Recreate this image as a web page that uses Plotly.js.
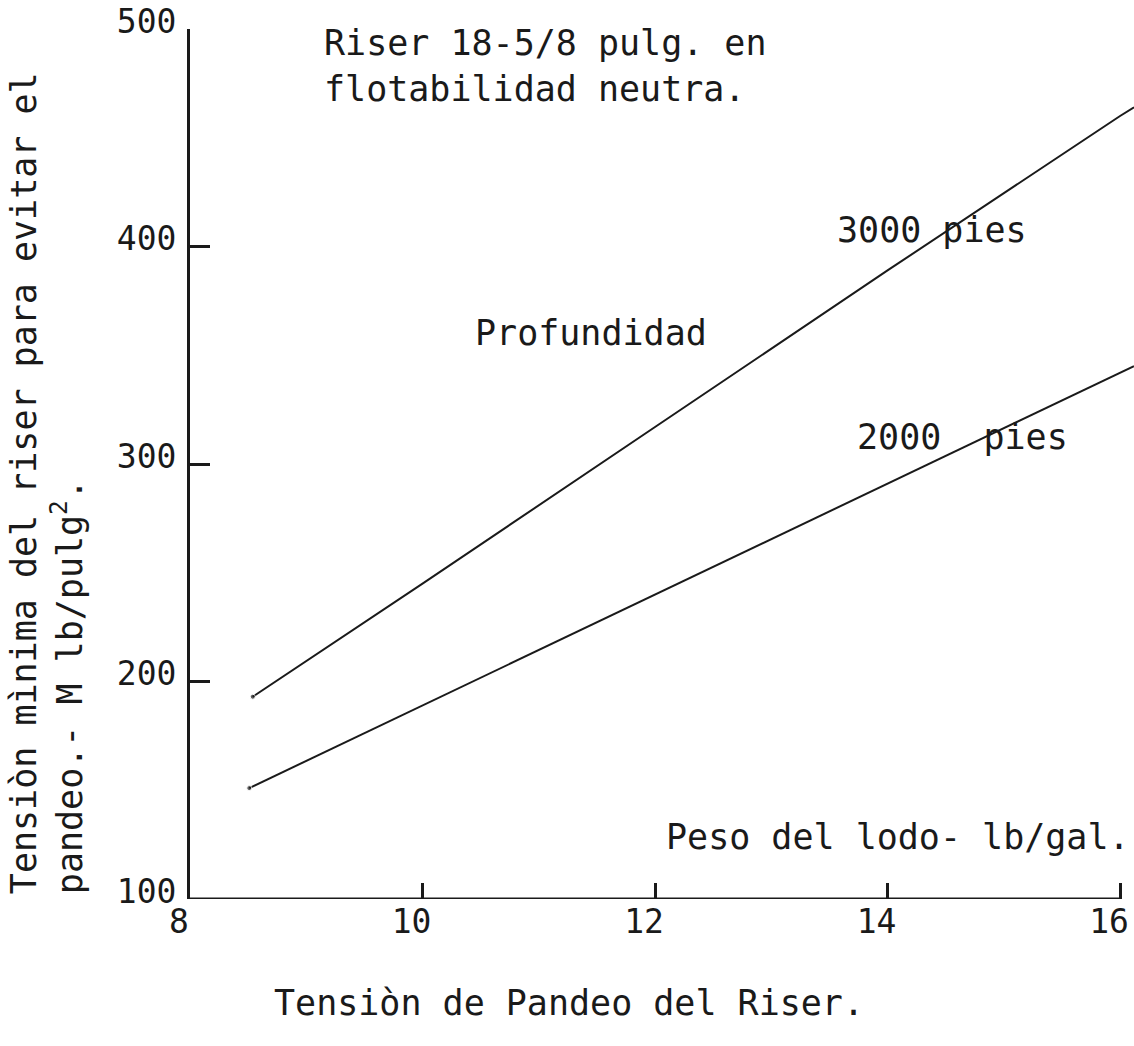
<!DOCTYPE html>
<html>
<head>
<meta charset="utf-8">
<script src="https://cdn.plot.ly/plotly-3.0.1.min.js"></script>
<style>html,body{margin:0;padding:0;background:#fff;}</style>
</head>
<body>
<div id="chart" style="width:1134px;height:1046px;"></div>
<script>
// Mud weight (lb/gal) vs minimum riser tension (M lb/pulg^2)
const mudWeight3000 = [8.54, 10, 12, 14, 16, 16.12];
const tension3000   = [193, 245, 317, 389, 460, 464];
const mudWeight2000 = [8.51, 10, 12, 14, 16, 16.12];
const tension2000   = [151, 189, 240, 291, 342, 345];
const xTickVals = [8, 10, 12, 14, 16];
const yTickVals = [100, 200, 300, 400, 500];

const FONT = '"DejaVu Sans Mono", "Liberation Mono", monospace';
const FS = 33;   // tick labels
const AFS = 35;  // annotation texts
const INK = '#1a1a1a';

function startMarker(n){ return Array.from({length:n}, (_, i) => i === 0 ? 5 : 0); }

const traces = [
  {x: mudWeight3000, y: tension3000, mode: 'lines+markers', name: '3000 pies',
   line: {color: INK, width: 2}, marker: {color: INK, size: startMarker(mudWeight3000.length)}},
  {x: mudWeight2000, y: tension2000, mode: 'lines+markers', name: '2000 pies',
   line: {color: INK, width: 2}, marker: {color: INK, size: startMarker(mudWeight2000.length)}}
];

const ann = (text, x, y, xanchor, yanchor, extra) => Object.assign({
  text, x, y, xref: 'paper', yref: 'paper', xanchor, yanchor, showarrow: false,
  font: {family: FONT, size: AFS, color: INK}, align: 'left'
}, extra || {});

const layout = {
  width: 1134, height: 1046,
  margin: {l: 190, r: 0, t: 29, b: 147},
  paper_bgcolor: '#fff', plot_bgcolor: '#fff',
  showlegend: false,
  font: {family: FONT, size: FS, color: INK},
  xaxis: {
    range: [8, 16.12], tickvals: xTickVals, ticktext: xTickVals.map(String),
    ticks: 'inside', ticklen: 16, tickwidth: 3, tickcolor: INK,
    showline: false, showgrid: false, zeroline: false,
    ticklabelshift: -11, ticklabeloverflow: 'allow',
    tickfont: {family: FONT, size: FS, color: INK}
  },
  yaxis: {
    range: [100, 500], tickvals: yTickVals, ticktext: yTickVals.map(String),
    ticks: 'inside', ticklen: 20, tickwidth: 3, tickcolor: INK,
    showline: true, linecolor: INK, linewidth: 3, showgrid: false, zeroline: false,
    ticklabelshift: -8, ticklabelstandoff: 4, ticklabeloverflow: 'allow',
    tickfont: {family: FONT, size: FS, color: INK}
  },
  shapes: [
    {type: 'line', xref: 'x', yref: 'y', x0: 8, x1: 16, y0: 100, y1: 100,
     line: {color: INK, width: 3}, layer: 'above'}
  ],
  annotations: [
    ann('Riser 18-5/8 pulg. en<br>flotabilidad neutra.', 0.140, 0.957, 'left', 'middle'),
    ann('3000 pies', 0.683, 0.769, 'left', 'middle'),
    ann('2000\u00a0\u00a0pies', 0.704, 0.531, 'left', 'middle'),
    ann('Profundidad', 0.300, 0.651, 'left', 'middle'),
    ann('Peso del lodo- lb/gal.', 0.998, 0.0713, 'right', 'middle'),
    ann('Tensiòn de Pandeo del Riser.', 0.087, -0.1195, 'left', 'middle'),
    ann('Tensiòn mìnima del riser para evitar el<br>pandeo.- M lb/pulg<sup>2</sup>.', -0.199, 0.0034, 'left', 'bottom', {textangle: -90})
  ]
};

Plotly.newPlot('chart', traces, layout, {displayModeBar: false, staticPlot: true});
</script>
</body>
</html>
